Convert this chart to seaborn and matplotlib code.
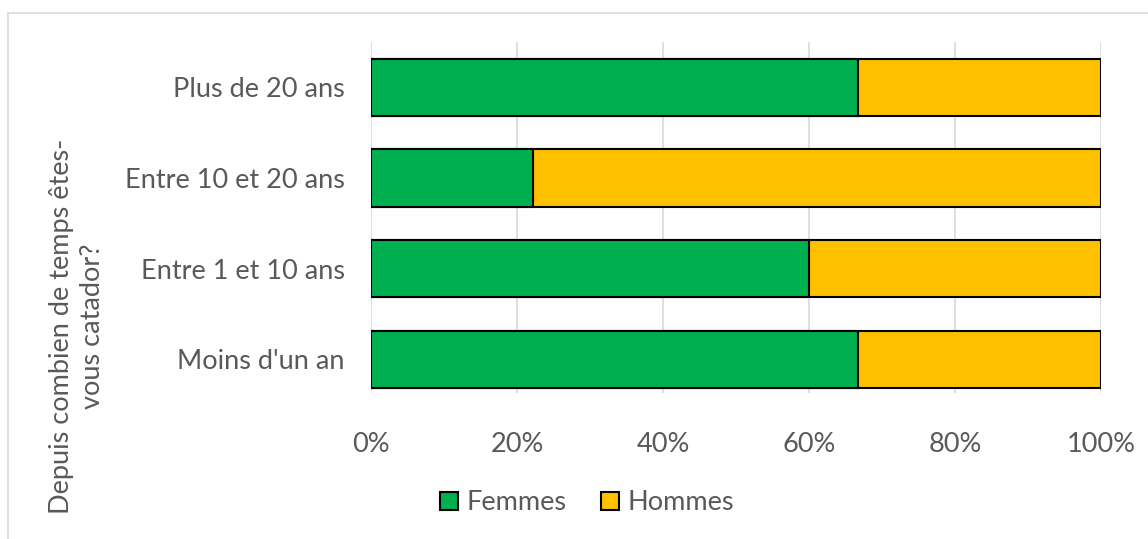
import seaborn as sns
import pandas as pd
import matplotlib
matplotlib.use('Agg')
import matplotlib.pyplot as plt
from matplotlib.patches import Patch
from matplotlib.lines import Line2D
from matplotlib.ticker import FuncFormatter

sns.set_style('white')
plt.rcParams['font.family'] = ['Lato', 'DejaVu Sans']

# data
categories = ['Plus de 20 ans', 'Entre 10 et 20 ans', 'Entre 1 et 10 ans', "Moins d'un an"]
femmes = [66.7, 22.2, 60.0, 66.7]
hommes = [33.3, 77.8, 40.0, 33.3]
series_names = ['Femmes', 'Hommes']
colors = ['#00B050', '#FFC000']
ylabel = "Depuis combien de temps êtes-\nvous catador?"

df = pd.DataFrame({'cat': categories, 'Femmes': femmes, 'Hommes': hommes})
df['total'] = df['Femmes'] + df['Hommes']

fig = plt.figure(figsize=(11.48, 5.39), dpi=100)
ax = fig.add_axes([371/1148, 1-393/539, 730/1148, 351/539])

text_col = '#595959'
fs = 19.5

# stacked bars: full total first, then Femmes on top
sns.barplot(data=df, y='cat', x='total', color=colors[1], saturation=1, orient='h', width=0.63,
            edgecolor='black', linewidth=1.5, ax=ax, zorder=3)
sns.barplot(data=df, y='cat', x='Femmes', color=colors[0], saturation=1, orient='h', width=0.63,
            edgecolor='black', linewidth=1.5, ax=ax, zorder=4)

ax.set_xlim(0, 100)
ax.set_ylim(3.37, -0.5)
ax.set_xticks([0, 20, 40, 60, 80, 100])
ax.xaxis.set_major_formatter(FuncFormatter(lambda v, p: f'{int(v)}%'))
ax.grid(axis='x', color='#d9d9d9', linewidth=1.2, zorder=0)
ax.set_axisbelow(True)
for s in ax.spines.values():
    s.set_visible(False)
ax.tick_params(axis='y', length=0, pad=19, labelsize=fs, labelcolor=text_col)
ax.tick_params(axis='x', length=0, pad=28, labelsize=fs, labelcolor=text_col)
ax.set_xlabel('')
ax.set_ylabel('')

fig.text(77/1148, 1-326/539, ylabel, rotation=90, ha='center', va='center',
         multialignment='center', fontsize=fs, color=text_col, linespacing=1.3)

handles = [Patch(facecolor=c, edgecolor='black', linewidth=1.5) for c in colors]
fig.legend(handles, series_names, loc='center', bbox_to_anchor=(587/1148, 1-503/539),
           ncol=2, frameon=False, fontsize=fs, labelcolor=text_col,
           handlelength=0.65, handleheight=0.65, handletextpad=0.3, columnspacing=1.3)

# chart area border
fig.add_artist(Line2D([8/1148, 1], [1-13/539, 1-13/539], color='#d9d9d9', linewidth=1.2,
                      transform=fig.transFigure))
fig.add_artist(Line2D([8/1148, 8/1148], [0, 1-13/539], color='#d9d9d9', linewidth=1.2,
                      transform=fig.transFigure))

fig.savefig('out.png', dpi=100)
